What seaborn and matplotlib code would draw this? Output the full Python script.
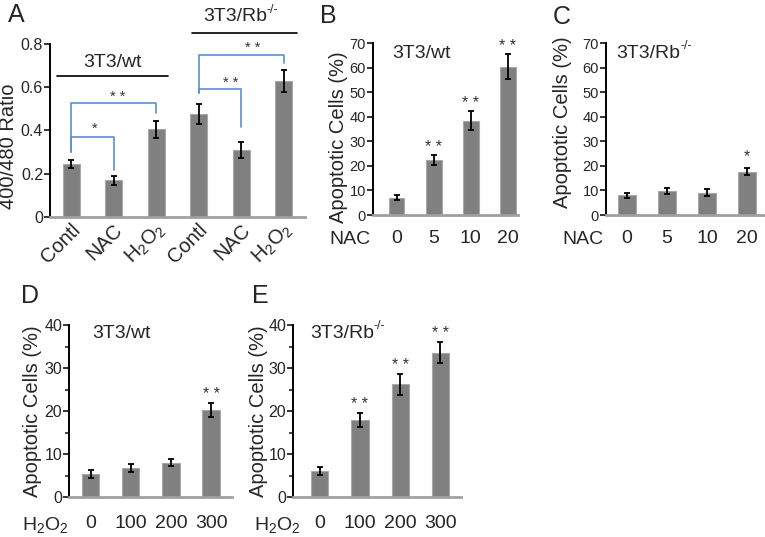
import numpy as np
import matplotlib
matplotlib.use('Agg')
import matplotlib.pyplot as plt
import matplotlib.transforms as mtrans
import seaborn as sns

# panel A: 400/480 ratio, 3T3/wt then 3T3/Rb-/-
a_labels = ['Contl', 'NAC', 'H$_2$O$_2$', 'Contl', 'NAC', 'H$_2$O$_2$']
a_vals = [0.245, 0.17, 0.405, 0.476, 0.31, 0.63]
a_err = [0.02, 0.02, 0.04, 0.045, 0.035, 0.05]

# panels B, C: NAC dose
nac_doses = ['0', '5', '10', '20']
b_vals = [7.0, 22.4, 38.4, 60.4]
b_err = [1.0, 2.2, 4.0, 5.2]
b_stars = ['', '* *', '* *', '* *']
c_vals = [8.1, 9.9, 9.1, 17.6]
c_err = [1.0, 1.2, 1.3, 1.5]
c_stars = ['', '', '', '*']

# panels D, E: H2O2 dose
h2o2_doses = ['0', '100', '200', '300']
d_vals = [5.3, 6.7, 8.0, 20.2]
d_err = [0.95, 0.9, 0.8, 1.6]
d_stars = ['', '', '', '* *']
e_vals = [6.05, 17.9, 26.2, 33.6]
e_err = [1.0, 1.7, 2.5, 2.4]
e_stars = ['', '* *', '* *', '* *']

sns.set_style('ticks')
plt.rcParams['font.family'] = ['Liberation Sans', 'DejaVu Sans']
plt.rcParams['mathtext.default'] = 'regular'

BAR = '#808080'
EDGE = '#a8a8a8'
BLUE = '#5b8fd4'
STAR = '#333333'
W, H = 765, 537

fig = plt.figure(figsize=(W / 100, H / 100), dpi=100)


def px_axes(left, right, top, bottom):
    return fig.add_axes([left / W, 1 - bottom / H, (right - left) / W, (bottom - top) / H])


def bars(ax, vals, errs, width=0.43):
    x = np.arange(len(vals))
    sns.barplot(x=x, y=vals, ax=ax, color=BAR, width=width, errorbar=None,
                edgecolor=EDGE, linewidth=0.8, saturation=1)
    ax.errorbar(x, vals, yerr=errs, fmt='none', ecolor='black',
                elinewidth=1.3, capsize=2.5, capthick=1.3, zorder=5)


def style(ax, ymax, step, minor=None, ysize=11):
    ax.set_ylim(0, ymax)
    ax.set_yticks(np.arange(0, ymax + step / 2, step))
    ax.yaxis.set_major_formatter(matplotlib.ticker.FuncFormatter(lambda v, _: f'{v:g}'))
    if minor:
        ax.set_yticks(np.arange(0, ymax + minor / 2, minor), minor=True)
        ax.tick_params(axis='y', which='minor', direction='out', length=3, width=1.2)
    sns.despine(ax=ax)
    ax.spines['left'].set_color('black')
    ax.spines['left'].set_linewidth(1.4)
    ax.spines['bottom'].set_color('#a0a0a0')
    ax.spines['bottom'].set_linewidth(2)
    ax.tick_params(axis='y', direction='out', length=4, width=1.3, labelsize=ysize, pad=1)
    ax.tick_params(axis='x', length=0, labelsize=14)
    ax.set_xlabel('')


def stars(ax, vals, errs, marks, off=5):
    for i, (v, e, m) in enumerate(zip(vals, errs, marks)):
        if m:
            ax.annotate(m, (i, v + e), xytext=(0, off), textcoords='offset points',
                        ha='center', va='center', fontsize=11.5, color=STAR)


def rb_title(ax, x, y, ha='left', transform=None):
    t = ax.text(x, y, '3T3/Rb', ha=ha, va='center', fontsize=14,
                transform=transform or ax.transData, clip_on=False)
    ax.annotate('-/-', xy=(1.0, 0.92), xycoords=t, ha='left', va='center', fontsize=9)
    return t


# ---- A ----
axA = px_axes(50, 305, 44, 217)
bars(axA, a_vals, a_err, width=0.4)
style(axA, 0.8, 0.2, ysize=11.5)
axA.set_xlim(-0.5, 5.5)
axA.set_xticks(range(6))
axA.set_xticklabels(a_labels, rotation=45, ha='right', va='center',
                    rotation_mode='anchor', fontsize=14.5)
axA.tick_params(axis='x', pad=7)
shift = mtrans.ScaledTranslation(6 / 100, 0, fig.dpi_scale_trans)
for t in axA.get_xticklabels():
    t.set_transform(t.get_transform() + shift)
axA.set_ylabel('400/480 Ratio', fontsize=14.5)
axA.yaxis.set_label_coords(-0.125, 0.41)

# group lines
axA.plot([-0.34, 2.28], [0.652, 0.652], color='black', lw=1.2, clip_on=False)
axA.text(0.98, 0.715, '3T3/wt', ha='center', va='center', fontsize=14)
axA.plot([2.84, 5.31], [0.851, 0.851], color='black', lw=1.2, clip_on=False)
rb_title(axA, 3.85, 0.925, ha='center')


def bracket(ax, x0, x1, y, yb0, yb1, label, lx, ly):
    ax.plot([x0, x0, x1, x1], [yb0, y, y, yb1], color=BLUE, lw=1.2, clip_on=False)
    ax.text(lx, ly, label, ha='center', va='center', fontsize=10.5, color=STAR)


bracket(axA, 0, 2, 0.527, 0.30, 0.481, '* *', 1.1, 0.555)
bracket(axA, 0, 1, 0.37, 0.30, 0.217, '*', 0.56, 0.41)
bracket(axA, 3, 5, 0.749, 0.573, 0.712, '* *', 4.28, 0.78)
bracket(axA, 3, 4, 0.592, 0.573, 0.416, '* *', 3.74, 0.62)

# ---- B ----
axB = px_axes(373, 518, 43, 215)
bars(axB, b_vals, b_err)
style(axB, 70, 10, ysize=10.5)
axB.set_xlim(-0.635, 3.28)
axB.set_xticks(range(4))
axB.set_xticklabels(nac_doses)
axB.tick_params(axis='x', pad=11)
stars(axB, b_vals, b_err, b_stars)
axB.set_ylabel('Apoptotic Cells (%)', fontsize=14.5)
axB.yaxis.set_label_coords(-0.172, 0.45)
axB.text(0.13, 0.94, '3T3/wt', transform=axB.transAxes, ha='left', va='center', fontsize=14)

# ---- C ----
axC = px_axes(606, 764, 43, 215)
bars(axC, c_vals, c_err)
style(axC, 70, 10, ysize=10.5)
axC.set_xlim(-0.525, 3.425)
axC.set_xticks(range(4))
axC.set_xticklabels(nac_doses)
axC.tick_params(axis='x', pad=11)
stars(axC, c_vals, c_err, c_stars, off=8)
axC.set_ylabel('Apoptotic Cells (%)', fontsize=14.5)
axC.yaxis.set_label_coords(-0.215, 0.54)
rb_title(axC, 0.064, 0.94, transform=axC.transAxes)

# ---- D ----
axD = px_axes(69, 232, 325, 497)
bars(axD, d_vals, d_err)
style(axD, 40, 10, minor=5, ysize=11.5)
axD.set_xlim(-0.535, 3.52)
axD.set_xticks(range(4))
axD.set_xticklabels(h2o2_doses)
axD.tick_params(axis='x', pad=13)
stars(axD, d_vals, d_err, d_stars, off=6)
axD.set_ylabel('Apoptotic Cells (%)', fontsize=14.5)
axD.yaxis.set_label_coords(-0.166, 0.5)
axD.text(0.14, 0.953, '3T3/wt', transform=axD.transAxes, ha='left', va='center', fontsize=14)

# ---- E ----
axE = px_axes(293, 461, 325, 497)
bars(axE, e_vals, e_err)
style(axE, 40, 10, minor=5, ysize=11.5)
axE.set_xlim(-0.66, 3.51)
axE.set_xticks(range(4))
axE.set_xticklabels(h2o2_doses)
axE.tick_params(axis='x', pad=13)
stars(axE, e_vals, e_err, e_stars, off=6)
axE.set_ylabel('Apoptotic Cells (%)', fontsize=14.5)
axE.yaxis.set_label_coords(-0.149, 0.5)
rb_title(axE, 0.10, 0.953, transform=axE.transAxes)

# x-axis names to the left of the dose ticks
fig.text(350 / W, 1 - 240 / H, 'NAC', ha='center', va='center', fontsize=14)
fig.text(583 / W, 1 - 240 / H, 'NAC', ha='center', va='center', fontsize=14)
fig.text(45 / W, 1 - 525 / H, 'H$_2$O$_2$', ha='center', va='center', fontsize=14)
fig.text(277 / W, 1 - 525 / H, 'H$_2$O$_2$', ha='center', va='center', fontsize=14)

# panel letters
for letter, (px, py) in {'A': (16, 15), 'B': (328, 16), 'C': (562, 17),
                         'D': (30, 296), 'E': (260, 296)}.items():
    fig.text(px / W, 1 - py / H, letter, ha='center', va='center', fontsize=18)

fig.savefig('out.png', dpi=100)
